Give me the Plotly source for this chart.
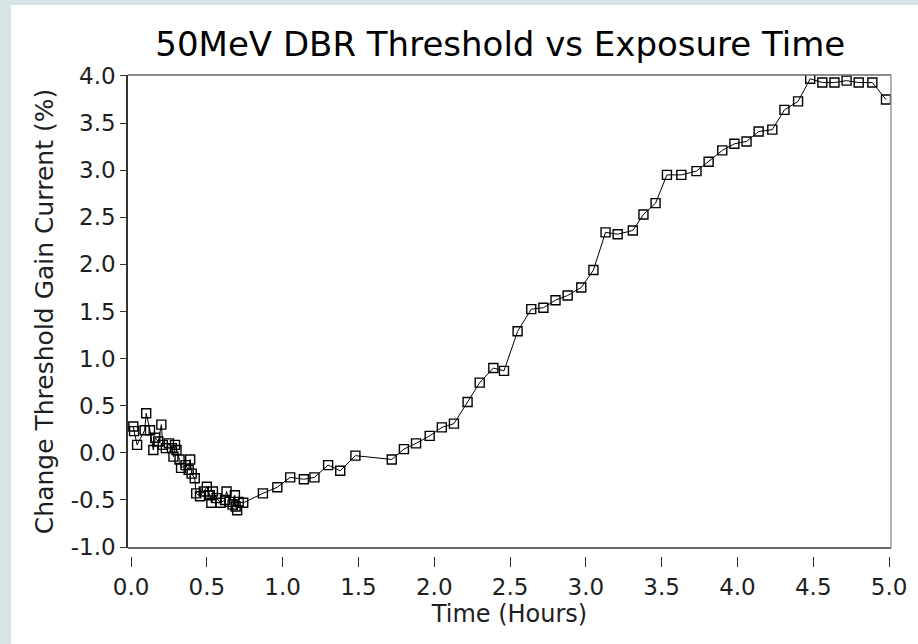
import plotly.graph_objects as go

# Data
time_hours = [
    0.015, 0.02, 0.04, 0.09, 0.10, 0.125, 0.147, 0.16, 0.18, 0.20,
    0.21, 0.23, 0.25, 0.27, 0.28, 0.29, 0.30, 0.32, 0.33, 0.36,
    0.38, 0.39, 0.40, 0.42, 0.43, 0.455, 0.48, 0.50, 0.52, 0.53,
    0.54, 0.565, 0.59, 0.62, 0.63, 0.65, 0.67, 0.685, 0.69, 0.70,
    0.71, 0.74, 0.87, 0.965, 1.05, 1.14, 1.21, 1.30, 1.38, 1.48,
    1.72, 1.80, 1.88, 1.97, 2.05, 2.13, 2.22, 2.30, 2.39, 2.46,
    2.55, 2.64, 2.72, 2.80, 2.88, 2.97, 3.05, 3.13, 3.21, 3.31,
    3.38, 3.46, 3.535, 3.63, 3.73, 3.81, 3.90, 3.98, 4.06, 4.14,
    4.23, 4.31, 4.40, 4.48, 4.56, 4.64, 4.72, 4.80, 4.89, 4.98,
]
change_pct = [
    0.28, 0.23, 0.085, 0.24, 0.42, 0.24, 0.03, 0.16, 0.12, 0.30,
    0.085, 0.05, 0.10, 0.05, -0.04, 0.085, 0.03, -0.07, -0.16, -0.13,
    -0.18, -0.07, -0.22, -0.27, -0.43, -0.46, -0.41, -0.36, -0.45, -0.53,
    -0.41, -0.48, -0.53, -0.50, -0.41, -0.52, -0.55, -0.45, -0.57, -0.61,
    -0.52, -0.53, -0.43, -0.365, -0.26, -0.28, -0.26, -0.13, -0.19, -0.03,
    -0.07, 0.04, 0.10, 0.18, 0.27, 0.31, 0.54, 0.745, 0.90, 0.87,
    1.29, 1.525, 1.54, 1.62, 1.67, 1.755, 1.94, 2.34, 2.32, 2.36,
    2.53, 2.65, 2.95, 2.95, 2.99, 3.09, 3.21, 3.28, 3.305, 3.41,
    3.43, 3.64, 3.73, 3.97, 3.93, 3.93, 3.95, 3.93, 3.93, 3.75,
]

x_tick_vals = [0.0, 0.5, 1.0, 1.5, 2.0, 2.5, 3.0, 3.5, 4.0, 4.5, 5.0]
y_tick_vals = [-1.0, -0.5, 0.0, 0.5, 1.0, 1.5, 2.0, 2.5, 3.0, 3.5, 4.0]

FONT = "DejaVu Sans"
TXT = "#1e1e1e"

fig = go.Figure()
fig.add_trace(go.Scatter(
    x=time_hours, y=change_pct, mode="lines+markers",
    line=dict(color="black", width=1),
    marker=dict(symbol="square-open", size=9, color="black", line=dict(width=1.4, color="black")),
    showlegend=False,
))

fig.update_layout(
    width=918, height=644,
    margin=dict(l=128, r=27, t=75, b=88),
    paper_bgcolor="#d6e4e5",
    plot_bgcolor="white",
    title=dict(text="50MeV DBR Threshold vs Exposure Time", x=0.545, xref="container",
               y=0.932, yref="container", xanchor="center", yanchor="middle",
               font=dict(family=FONT, size=34, color="black")),
    font=dict(family=FONT, color=TXT),
    shapes=[
        dict(type="rect", xref="paper", yref="paper", x0=-0.1533, x1=1.2, y0=-0.3, y1=1.1455,
             fillcolor="white", line=dict(width=0), layer="below"),
        # frame: bottom (dark), top and right (gray)
        dict(type="line", xref="x domain", yref="y domain", x0=0, x1=1, y0=0, y1=0,
             line=dict(color="#333333", width=1.5)),
        dict(type="line", xref="x domain", yref="y domain", x0=0, x1=1, y0=1, y1=1,
             line=dict(color="#666666", width=1.5)),
        dict(type="line", xref="x domain", yref="y domain", x0=1, x1=1, y0=0, y1=1,
             line=dict(color="#999999", width=1.5)),
    ],
)

fig.update_xaxes(
    range=[-0.02, 5.013], anchor="free", position=0,
    tickvals=x_tick_vals, ticktext=[f"{v:.1f}" for v in x_tick_vals],
    ticks="outside", ticklen=10, tickwidth=1.2, tickcolor="#333333",
    showline=False, showgrid=False, zeroline=False,
    tickfont=dict(family=FONT, size=23, color=TXT),
    title=dict(text="Time (Hours)", font=dict(family=FONT, size=24, color=TXT), standoff=6),
)
fig.update_yaxes(
    range=[-1.01, 4.01], domain=[0.0166, 1],
    tickvals=y_tick_vals, ticktext=[f"{v:.1f}" for v in y_tick_vals],
    ticks="outside", ticklen=6, tickwidth=1.2, tickcolor="#333333",
    showline=True, linecolor="#333333", linewidth=1.5,
    showgrid=False, zeroline=False,
    tickfont=dict(family=FONT, size=23, color=TXT),
    title=dict(text="Change Threshold Gain Current (%)", font=dict(family=FONT, size=25, color=TXT), standoff=10),
)

fig.write_html("out.html", config={"displayModeBar": False},
               post_script="document.body.style.margin='0';")
